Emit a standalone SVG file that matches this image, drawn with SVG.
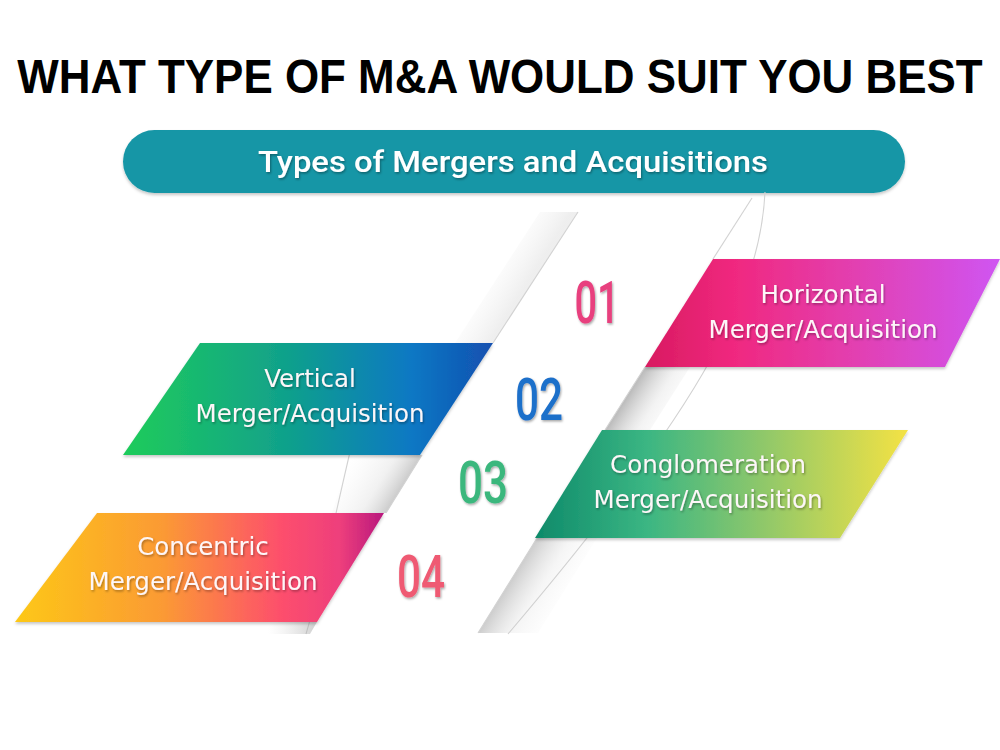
<svg xmlns="http://www.w3.org/2000/svg" width="1000" height="750" viewBox="0 0 1000 750">
<style>
.title{font-family:"Liberation Sans",Arial,sans-serif;font-weight:bold;font-size:48px;fill:#000}
.hdr{font-family:Roboto,"Liberation Sans",sans-serif;font-weight:500;font-size:29px;fill:#fff}
.lbl{font-family:"DejaVu Sans","Liberation Sans",sans-serif;font-size:24.5px;fill:#fdf6f8;text-anchor:middle}
.num{font-family:Roboto,"Liberation Sans",sans-serif;font-weight:500;font-size:60px;text-anchor:middle}
.edge{fill:none;stroke:#d2d2d2;stroke-width:1.1}
</style>
<defs>
<filter id="ts" x="-10%" y="-30%" width="120%" height="160%"><feDropShadow dx="1" dy="1.5" stdDeviation="1" flood-color="#000" flood-opacity="0.35"/></filter>
<filter id="ps" x="-10%" y="-20%" width="120%" height="150%"><feDropShadow dx="0" dy="2" stdDeviation="1.5" flood-color="#000" flood-opacity="0.22"/></filter>
<linearGradient id="gH" x1="0" y1="0" x2="1" y2="0"><stop offset="0" stop-color="#d81b60"/><stop offset="0.25" stop-color="#f0287f"/><stop offset="0.6" stop-color="#e240b2"/><stop offset="1" stop-color="#cf55f2"/></linearGradient>
<linearGradient id="gV" x1="0" y1="0" x2="1" y2="0"><stop offset="0" stop-color="#1fcc5a"/><stop offset="0.45" stop-color="#10a08c"/><stop offset="0.78" stop-color="#0b78c4"/><stop offset="1" stop-color="#1450b0"/></linearGradient>
<linearGradient id="gC" x1="0" y1="0" x2="1" y2="0"><stop offset="0" stop-color="#0e8a6a"/><stop offset="0.3" stop-color="#3bb683"/><stop offset="0.6" stop-color="#8cc76b"/><stop offset="1" stop-color="#f4e244"/></linearGradient>
<linearGradient id="gK" x1="0" y1="0" x2="1" y2="0"><stop offset="0" stop-color="#fdc817"/><stop offset="0.4" stop-color="#fb9a34"/><stop offset="0.72" stop-color="#fd4f6c"/><stop offset="0.88" stop-color="#ee3f7c"/><stop offset="1" stop-color="#b8177d"/></linearGradient>
<linearGradient id="shA" gradientUnits="userSpaceOnUse" x1="415" y1="480" x2="360" y2="446"><stop offset="0" stop-color="#8c8c8c" stop-opacity="0.6"/><stop offset="0.45" stop-color="#c8c8c8" stop-opacity="0.25"/><stop offset="1" stop-color="#ddd" stop-opacity="0"/></linearGradient>
<linearGradient id="shB" gradientUnits="userSpaceOnUse" x1="628" y1="394" x2="675" y2="424"><stop offset="0" stop-color="#8c8c8c" stop-opacity="0.6"/><stop offset="0.5" stop-color="#c8c8c8" stop-opacity="0.22"/><stop offset="1" stop-color="#ddd" stop-opacity="0"/></linearGradient>
<linearGradient id="shC" gradientUnits="userSpaceOnUse" x1="520" y1="565" x2="570" y2="596"><stop offset="0" stop-color="#9a9a9a" stop-opacity="0.5"/><stop offset="0.5" stop-color="#cfcfcf" stop-opacity="0.2"/><stop offset="1" stop-color="#ddd" stop-opacity="0"/></linearGradient>
<linearGradient id="shD" gradientUnits="userSpaceOnUse" x1="313" y1="628" x2="268" y2="628"><stop offset="0" stop-color="#a0a0a0" stop-opacity="0.45"/><stop offset="1" stop-color="#ccc" stop-opacity="0"/></linearGradient>
<linearGradient id="shT" gradientUnits="userSpaceOnUse" x1="535" y1="270" x2="500" y2="248"><stop offset="0" stop-color="#c4c4c4" stop-opacity="0.28"/><stop offset="1" stop-color="#ddd" stop-opacity="0"/></linearGradient>
</defs>
<rect width="1000" height="750" fill="#fff"/>
<text class="title" x="0" y="0" text-anchor="middle" transform="translate(500,93) scale(0.915,1)">WHAT TYPE OF M&amp;A WOULD SUIT YOU BEST</text>
<g id="header">
<rect x="123" y="130" width="782" height="63" rx="31.5" fill="#1796a6" filter="url(#ps)"/>
<text class="hdr" x="513" y="172" text-anchor="middle" textLength="510" lengthAdjust="spacingAndGlyphs" filter="url(#ts)">Types of Mergers and Acquisitions</text>
</g>
<g id="connectors">
<polygon points="578,212 493,343 455,343 540,212" fill="url(#shT)"/>
<path class="edge" d="M578,212 L493,343"/>
<path class="edge" d="M752,198 L713,259"/>
<path class="edge" d="M765,192 C760,300 690,420 508,634"/>
<path class="edge" d="M350,452 C334,520 322,580 306,634"/>
<polygon points="422,455 386,513 332,513 350,455" fill="url(#shA)"/>
<path class="edge" d="M422,455 L386,513"/>
<polygon points="645,367 690,367 650,430 605,430" fill="url(#shB)"/>
<path class="edge" d="M645,367 L605,430"/>
<polygon points="537,538 597,538 538,633 478,633" fill="url(#shC)"/>
<path class="edge" d="M537,538 L478,633"/>
<polygon points="317,622 310,634 266,634 270,622" fill="url(#shD)"/>
</g>
<g id="horizontal">
<polygon points="713,259 1000,259 945,367 645,367" fill="url(#gH)" filter="url(#ps)"/>
<text class="lbl" filter="url(#ts)"><tspan x="823" y="303">Horizontal</tspan><tspan x="823" y="338">Merger/Acquisition</tspan></text>
</g>
<g id="vertical">
<polygon points="200,343 493,343 420,455 123,455" fill="url(#gV)" filter="url(#ps)"/>
<text class="lbl" filter="url(#ts)"><tspan x="310" y="387">Vertical</tspan><tspan x="310" y="422">Merger/Acquisition</tspan></text>
</g>
<g id="conglomeration">
<polygon points="602,430 908,430 840,538 535,538" fill="url(#gC)" filter="url(#ps)"/>
<text class="lbl" filter="url(#ts)"><tspan x="708" y="473">Conglomeration</tspan><tspan x="708" y="508">Merger/Acquisition</tspan></text>
</g>
<g id="concentric">
<polygon points="97,513 384,513 317,622 15,622" fill="url(#gK)" filter="url(#ps)"/>
<text class="lbl" filter="url(#ts)"><tspan x="203" y="555">Concentric</tspan><tspan x="203" y="590">Merger/Acquisition</tspan></text>
</g>
<g id="num01"><text class="num" x="597" y="323" fill="#e83f7e" textLength="45" lengthAdjust="spacingAndGlyphs" filter="url(#ts)">01</text></g>
<g id="num02"><text class="num" x="539" y="420" fill="#1f6fca" textLength="48" lengthAdjust="spacingAndGlyphs" filter="url(#ts)">02</text></g>
<g id="num03"><text class="num" x="483" y="503" fill="#3bb77d" textLength="50" lengthAdjust="spacingAndGlyphs" filter="url(#ts)">03</text></g>
<g id="num04"><text class="num" x="421" y="597" fill="#ef5a73" textLength="48" lengthAdjust="spacingAndGlyphs" filter="url(#ts)">04</text></g>
</svg>
